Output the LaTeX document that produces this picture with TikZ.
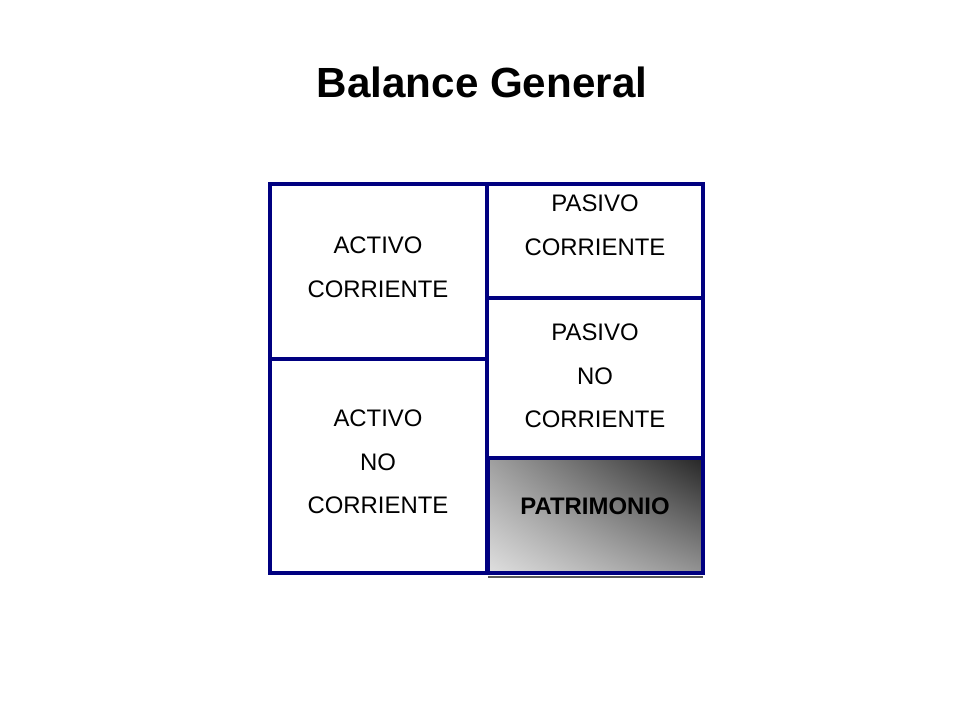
\documentclass[tikz,border=0pt]{standalone}
\usepackage{fontspec}
\setmainfont{Liberation Sans}
\usepackage{xcolor}
\usetikzlibrary{shadings}
\definecolor{marco}{RGB}{0,0,128}

\begin{document}
\begin{tikzpicture}[x=0.025cm,y=-0.025cm,
    celda/.style={draw=marco,line width=2.2pt},
    rotulo/.style={align=center,font=\fontsize{17}{31}\selectfont}]
    \useasboundingbox (0,0) rectangle (960,720);
    \node[font=\bfseries\fontsize{30}{36}\selectfont] (titulo) at (482,82) {Balance General};
    % patrimonio sombreado
    \draw[black!65,line width=0.8pt] (488,577) -- (703,577);
    \shade[upper left=gray!75,upper right=black!85,lower left=gray!25,lower right=gray!85] (488,458) rectangle (703,573);
    % marco y divisiones
    \draw[celda,line width=2.8pt] (270,184) rectangle (703,573);
    \draw[celda] (487,184) -- (487,573);
    \draw[celda] (270,359) -- (487,359);
    \draw[celda] (487,298) -- (703,298);
    \draw[celda,line width=2.8pt] (488,458) rectangle (703,573);
    % textos
    \node[rotulo] (actcorr) at (378,267) {ACTIVO\\CORRIENTE};
    \node[rotulo] (actnocorr) at (378,462) {ACTIVO\\NO\\CORRIENTE};
    \node[rotulo] (pascorr) at (595,225) {PASIVO\\CORRIENTE};
    \node[rotulo] (pasnocorr) at (595,376) {PASIVO\\NO\\CORRIENTE};
    \node[rotulo,font=\bfseries\fontsize{17}{31}\selectfont] (patrim) at (595,506) {PATRIMONIO};
\end{tikzpicture}
\end{document}
